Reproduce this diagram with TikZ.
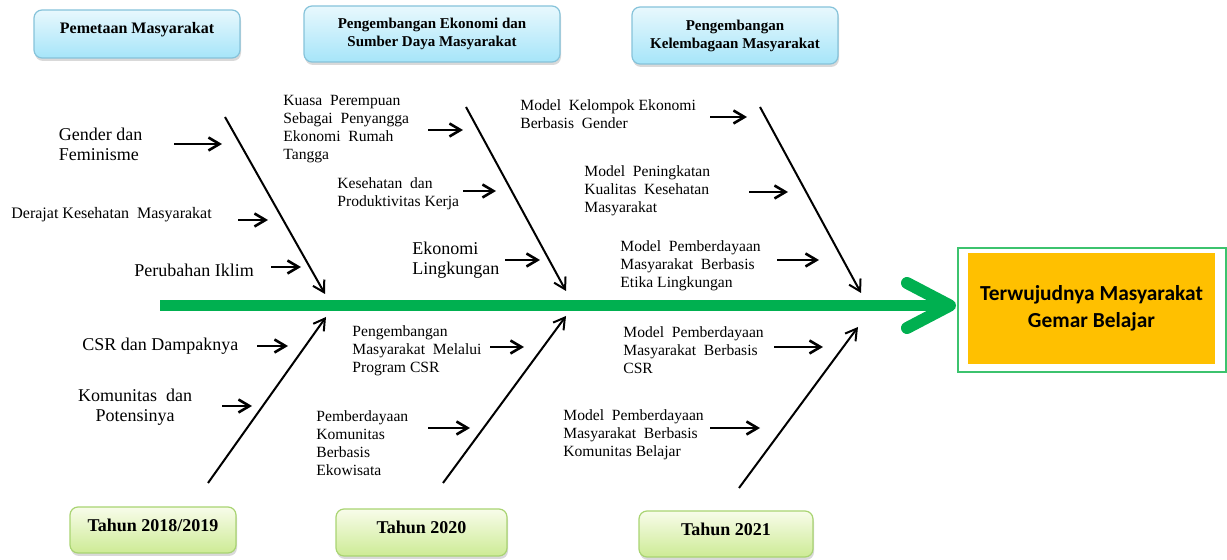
\documentclass[tikz,border=0pt]{standalone}
\usepackage{fontspec}
\setmainfont{Liberation Serif}
\newfontfamily\califont{Carlito}
\usetikzlibrary{arrows.meta,shadows}
\definecolor{spinegreen}{HTML}{00B050}
\definecolor{goalorange}{HTML}{FFC000}
\definecolor{framegreen}{HTML}{3CC36E}
\definecolor{bluetop}{HTML}{E8F8FD}
\definecolor{bluebot}{HTML}{A6E5F9}
\definecolor{blueedge}{HTML}{86C3DA}
\definecolor{greentop}{HTML}{F8FCEA}
\definecolor{greenbot}{HTML}{CDEB95}
\definecolor{greenedge}{HTML}{A9D472}
\tikzset{
  phasebox/.style={draw=blueedge, line width=0.6pt, rounded corners=4pt,
    top color=bluetop, bottom color=bluebot, align=center, inner sep=0pt,
    font=\bfseries\fontsize{7.5}{9}\selectfont,
    drop shadow={opacity=0.3, shadow xshift=0.5pt, shadow yshift=-1.5pt}},
  yearbox/.style={draw=greenedge, line width=0.6pt, rounded corners=4pt,
    top color=greentop, bottom color=greenbot, align=center, inner sep=0pt,
    font=\bfseries\fontsize{9}{10}\selectfont, text height=6.2pt, text depth=5pt,
    drop shadow={opacity=0.3, shadow xshift=0.5pt, shadow yshift=-1.5pt}},
  biglabel/.style={inner sep=0pt, align=left, anchor=west, font=\fontsize{9}{10}\selectfont},
  smalllabel/.style={inner sep=0pt, align=left, anchor=west, font=\fontsize{7.8}{9}\selectfont},
  bone/.style={line width=1pt, -{Straight Barb[length=5.5pt,width=6.5pt]}},
  cause/.style={line width=1.3pt, -{Straight Barb[length=5.5pt,width=6.5pt]}},
}
\begin{document}
\begin{tikzpicture}[x=0.5pt,y=-0.5pt]
\useasboundingbox (0,0) rectangle (1227,560);

% phase boxes
\node[phasebox, font=\bfseries\fontsize{8}{9}\selectfont, text height=6pt, text depth=6.4pt, minimum width=103pt, minimum height=24pt] (p1) at (137,34) {Pemetaan Masyarakat};
\node[phasebox, minimum width=128pt, minimum height=28pt] (p2) at (432,34) {Pengembangan Ekonomi dan\\Sumber Daya Masyarakat};
\node[phasebox, minimum width=103pt, minimum height=28.5pt] (p3) at (735,35.5) {Pengembangan\\Kelembagaan Masyarakat};

% year boxes
\node[yearbox, minimum width=83pt, minimum height=23pt] (y1) at (153,530) {Tahun 2018/2019};
\node[yearbox, minimum width=85.5pt, minimum height=23.5pt] (y2) at (421.5,532.5) {Tahun 2020};
\node[yearbox, minimum width=87pt, minimum height=23pt] (y3) at (726,534) {Tahun 2021};

% spine
\coordinate (spineStart) at (160,305.5);
\coordinate (spineEnd) at (944,305.5);
\coordinate (spineTip) at (950,305.5);
\coordinate (chevUp) at (907,283);
\coordinate (chevDown) at (907,328);
\draw[spinegreen, line width=5.8pt] (spineStart) -- (spineEnd);
\draw[spinegreen, line width=6pt, line cap=round, line join=round] (chevUp) -- (spineTip) -- (chevDown);

% goal
\node[draw=framegreen, line width=0.8pt, minimum width=134pt, minimum height=62pt, inner sep=0pt] (goalframe) at (1092,310) {};
\node[fill=goalorange, minimum width=123.5pt, minimum height=55.5pt, inner sep=0pt, align=center,
  font=\califont\bfseries\fontsize{10.7}{13.5}\selectfont] (goal) at (1091.5,308.5) {Terwujudnya Masyarakat\\Gemar Belajar};

% bones
\coordinate (u1s) at (225,117); \coordinate (u1e) at (325,294);
\coordinate (u2s) at (466,107); \coordinate (u2e) at (566,291);
\coordinate (u3s) at (760,107); \coordinate (u3e) at (861,293);
\coordinate (d1s) at (208,483); \coordinate (d1e) at (326,317);
\coordinate (d2s) at (443,483); \coordinate (d2e) at (566,316);
\coordinate (d3s) at (739,488); \coordinate (d3e) at (858,327);
\foreach \b in {u1,u2,u3,d1,d2,d3} {\draw[bone] (\b s) -- (\b e);}

% cause labels
\node[biglabel] (l1) at (58.5,144) {Gender dan\\Feminisme};
\node[biglabel, font=\fontsize{8}{10}\selectfont] (l2) at (11,215) {Derajat Kesehatan\ \ Masyarakat};
\node[biglabel] (l3) at (134,270) {Perubahan Iklim};
\node[smalllabel] (l4) at (283,129.5) {Kuasa\ \ Perempuan\\Sebagai\ \ Penyangga\\Ekonomi\ \ Rumah\\Tangga};
\node[smalllabel] (l5) at (337,194) {Kesehatan\ \ dan\\Produktivitas Kerja};
\node[biglabel] (l6) at (412,260) {Ekonomi\\Lingkungan};
\node[smalllabel] (l7) at (520,114) {Model\ \ Kelompok Ekonomi\\Berbasis\ \ Gender};
\node[smalllabel] (l8) at (584,190.5) {Model\ \ Peningkatan\\Kualitas\ \ Kesehatan\\Masyarakat};
\node[smalllabel] (l9) at (620,266) {Model\ \ Pemberdayaan\\Masyarakat\ \ Berbasis\\Etika Lingkungan};
\node[biglabel] (l10) at (82,346) {CSR dan Dampaknya};
\node[biglabel, align=center, anchor=center] (l11) at (135,407) {Komunitas\ \ dan\\Potensinya};
\node[smalllabel] (l12) at (352,350.5) {Pengembangan\\Masyarakat\ \ Melalui\\Program CSR};
\node[smalllabel] (l13) at (316,443.5) {Pemberdayaan\\Komunitas\\Berbasis\\Ekowisata};
\node[smalllabel] (l14) at (623,350.5) {Model\ \ Pemberdayaan\\Masyarakat\ \ Berbasis\\CSR};
\node[smalllabel] (l15) at (563,435) {Model\ \ Pemberdayaan\\Masyarakat\ \ Berbasis\\Komunitas Belajar};

% cause arrows
\foreach \i/\xa/\xb/\yy in {1/174/222/144, 2/238/268/220, 3/271/301/267,
  4/428/463/130, 5/463/496/191, 6/505/540/260,
  7/710/747/117, 8/749/788/192, 9/777/819/260,
  10/257/288/346, 11/222/252/406,
  12/490/524/347, 13/428/470/428,
  14/774/823/347, 15/710/760/428} {
  \coordinate (c\i s) at (\xa,\yy);
  \coordinate (c\i e) at (\xb,\yy);
  \draw[cause] (c\i s) -- (c\i e);
}
\end{tikzpicture}
\end{document}
